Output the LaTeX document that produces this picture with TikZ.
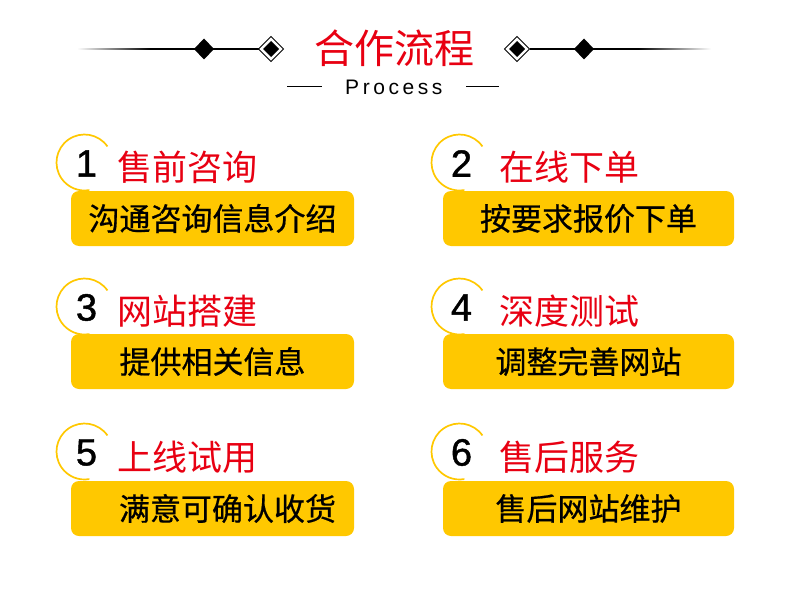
\documentclass[tikz,border=0pt]{standalone}
\usepackage{fontspec}
\newfontfamily\cjk{Noto Sans CJK SC}
\newfontfamily\cjkb[FakeBold=0.6]{Noto Sans CJK SC}
\newfontfamily\arialf[FakeBold=1.2]{Liberation Sans}
\newfontfamily\procf[LetterSpace=17]{Liberation Sans}
\definecolor{gold}{RGB}{255,200,0}
\definecolor{tred}{RGB}{232,0,18}
\tikzset{
  hline/.style={line width=1.2pt, black},
  ring/.style={draw=gold, line width=1.7pt},
  stepbox/.style={fill=gold, draw=none, rounded corners=8pt, inner sep=0pt,
    minimum height=55pt},
  digit/.style={inner sep=0pt, font=\arialf\fontsize{38}{38}\selectfont, text=black},
  steptitle/.style={inner sep=0pt, anchor=west, font=\cjk\fontsize{35}{35}\selectfont, text=tred},
  stepsub/.style={inner sep=0pt, font=\cjkb\fontsize{31}{31}\selectfont, text=black},
}
\begin{document}
\begin{tikzpicture}[x=1pt,y=-1pt]
\useasboundingbox (0,0) rectangle (790,594);
\fill[white] (0,0) rectangle (790,594);

% ---------- header ----------
\node[inner sep=0pt, font=\cjk\fontsize{40}{40}\selectfont, text=tred] (head) at (394,48) {合作流程};
\node[inner sep=0pt, anchor=base west, font=\procf\fontsize{21}{21}\selectfont] (proc) at (345,94) {Process};

\coordinate (lfade0) at (77,49);
\coordinate (lfade1) at (150,49);
\coordinate (ldia) at (204,49);
\coordinate (lring) at (271,49);
\coordinate (rring) at (517,49);
\coordinate (rdia) at (584,49);
\coordinate (rfade1) at (638,49);
\coordinate (rfade0) at (711,49);

\shade[left color=white, right color=black] (77,48.4) rectangle (150,49.6);
\draw[hline] (lfade1) -- ([xshift=-12.5pt]lring);
\shade[left color=black, right color=white] (638,48.4) rectangle (711,49.6);
\draw[hline] ([xshift=12.5pt]rring) -- (rfade1);

\foreach \c in {ldia,rdia}{
  \fill[black] ([xshift=-10pt]\c) -- ([yshift=-10.5pt]\c) -- ([xshift=10pt]\c) -- ([yshift=10.5pt]\c) -- cycle;
}
\foreach \c in {lring,rring}{
  \draw[black, fill=white, line width=0.9pt] ([xshift=-12.5pt]\c) -- ([yshift=-12.5pt]\c) -- ([xshift=12.5pt]\c) -- ([yshift=12.5pt]\c) -- cycle;
  \fill[black] ([xshift=-8pt]\c) -- ([yshift=-8pt]\c) -- ([xshift=8pt]\c) -- ([yshift=8pt]\c) -- cycle;
}

\coordinate (pl0) at (287,87);
\coordinate (pl1) at (322,87);
\coordinate (pr0) at (466,87);
\coordinate (pr1) at (499,87);
\draw[line width=1pt] (pl0) -- (pl1);
\draw[line width=1pt] (pr0) -- (pr1);

% ---------- circle centres ----------
\coordinate (c1) at (84.5,162.5);
\coordinate (c2) at (459.5,162.5);
\coordinate (c3) at (84.5,306.5);
\coordinate (c4) at (459.5,306.5);
\coordinate (c5) at (84.5,451.5);
\coordinate (c6) at (459.5,451.5);

\foreach \c in {c1,c2,c3,c4,c5,c6}{
  \draw[ring] ([shift={(-35:28)}]\c) arc[start angle=-35, end angle=-280, radius=28];
}

% ---------- boxes ----------
\node[stepbox, minimum width=283pt] (b1) at (212.5,218.5) {};
\node[stepbox, minimum width=291pt] (b2) at (588.5,218.5) {};
\node[stepbox, minimum width=283pt] (b3) at (212.5,361.5) {};
\node[stepbox, minimum width=291pt] (b4) at (588.5,361.5) {};
\node[stepbox, minimum width=283pt] (b5) at (212.5,508.5) {};
\node[stepbox, minimum width=291pt] (b6) at (588.5,508.5) {};

% ---------- digits ----------
\node[digit] (d1) at ([shift={(2,1)}]c1) {1};
\node[digit] (d2) at ([shift={(2,1)}]c2) {2};
\node[digit] (d3) at ([shift={(2,1)}]c3) {3};
\node[digit] (d4) at ([shift={(2,1)}]c4) {4};
\node[digit] (d5) at ([shift={(2,1)}]c5) {5};
\node[digit] (d6) at ([shift={(2,1)}]c6) {6};

% ---------- titles ----------
\node[steptitle] (t1) at (117,167) {售前咨询};
\node[steptitle] (t2) at (499,167) {在线下单};
\node[steptitle] (t3) at (117,311) {网站搭建};
\node[steptitle] (t4) at (499,311) {深度测试};
\node[steptitle] (t5) at (117,457) {上线试用};
\node[steptitle] (t6) at (499,457) {售后服务};

% ---------- subtitles ----------
\node[stepsub] (s1) at (b1.center) {沟通咨询信息介绍};
\node[stepsub] (s2) at (b2.center) {按要求报价下单};
\node[stepsub] (s3) at (b3.center) {提供相关信息};
\node[stepsub] (s4) at (b4.center) {调整完善网站};
\node[stepsub] (s5) at ([xshift=15pt]b5.center) {满意可确认收货};
\node[stepsub] (s6) at (b6.center) {售后网站维护};
\end{tikzpicture}
\end{document}
